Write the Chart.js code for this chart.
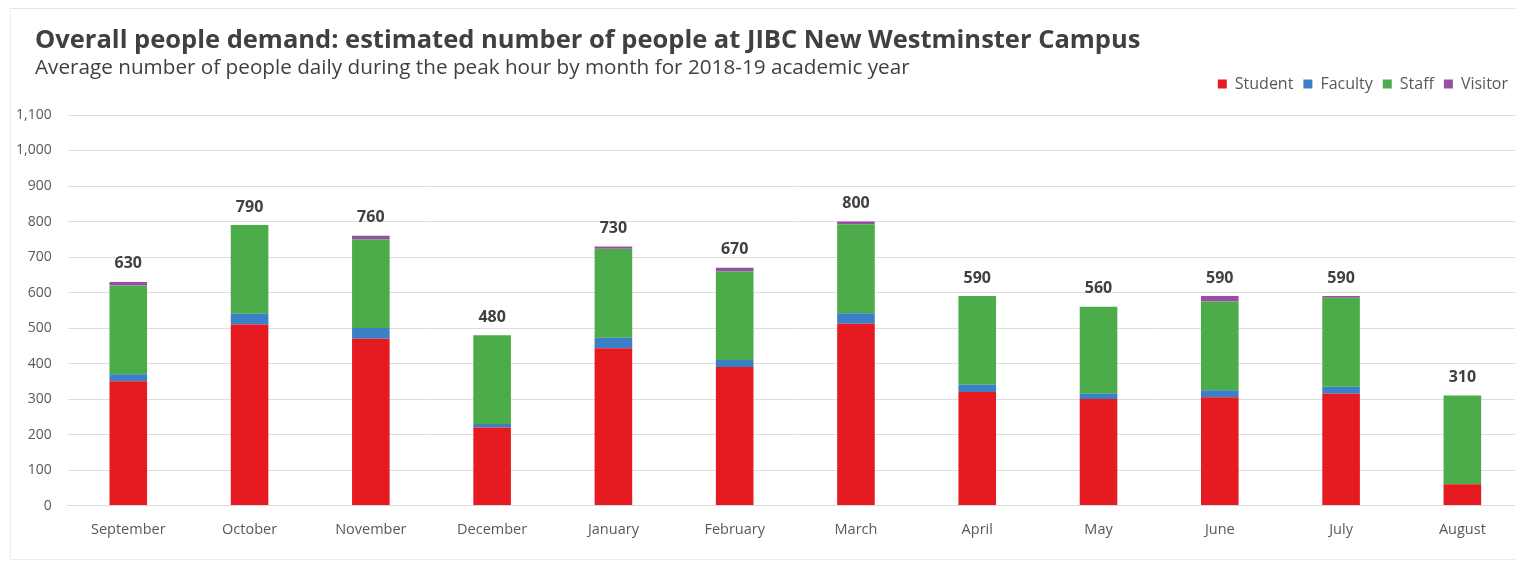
<!DOCTYPE html>
<html>
<head>
<meta charset="utf-8">
<script src="https://cdn.jsdelivr.net/npm/chart.js@4.4.1/dist/chart.umd.min.js"></script>
<style>
  html, body { margin: 0; padding: 0; background: #ffffff; overflow: hidden; }
  #frame {
    position: absolute; left: 10px; top: 8px; width: 1520px; height: 550px;
    border-top: 1px solid #e4e4e4; border-left: 1px solid #ececec; border-bottom: 1px solid #ececec;
  }
  #wrap { position: absolute; left: 0; top: 0; width: 1530px; height: 564px; }
  h1 {
    position: absolute; left: 35px; top: 25.5px; margin: 0; line-height: 1;
    font-family: "Open Sans", sans-serif; font-weight: 700; font-size: 25.5px;
    color: #404040; white-space: nowrap;
  }
  h2 {
    position: absolute; left: 35px; top: 56px; margin: 0; line-height: 1;
    font-family: "Open Sans", sans-serif; font-weight: 400; font-size: 20.7px;
    color: #404040; white-space: nowrap;
  }
</style>
</head>
<body>
<div id="frame"></div>
<div id="wrap"><canvas id="chart" width="1530" height="564"></canvas></div>
<h1>Overall people demand: estimated number of people at JIBC New Westminster Campus</h1>
<h2>Average number of people daily during the peak hour by month for 2018-19 academic year</h2>
<script>
// Months of the 2018-19 academic year
const months = ['September', 'October', 'November', 'December', 'January', 'February',
                'March', 'April', 'May', 'June', 'July', 'August'];

// Average daily people during the peak hour, by group
const student = [350, 510, 470, 220, 443, 390, 512, 320, 300, 305, 315, 60];
const faculty = [20, 30, 30, 10, 30, 20, 30, 20, 15, 20, 20, 0];
const staff   = [250, 250, 250, 250, 250, 250, 250, 250, 245, 250, 250, 250];
const visitor = [10, 0, 10, 0, 7, 10, 8, 0, 0, 15, 5, 0];

// Value axis ticks
const yTicks = [0, 100, 200, 300, 400, 500, 600, 700, 800, 900, 1000, 1100];

const FONT = '"Open Sans", sans-serif';

// Writes the monthly total above each stacked column
const totalLabels = {
  id: 'totalLabels',
  afterDatasetsDraw(chart) {
    const ctx = chart.ctx;
    const yScale = chart.scales.y;
    const xScale = chart.scales.x;
    ctx.save();
    ctx.font = 'bold 16px ' + FONT;
    ctx.fillStyle = '#404040';
    ctx.textAlign = 'center';
    ctx.textBaseline = 'middle';
    months.forEach((m, i) => {
      const total = student[i] + faculty[i] + staff[i] + visitor[i];
      const x = xScale.getPixelForValue(i);
      const y = yScale.getPixelForValue(total) - 18;
      ctx.fillText(String(total), x, y);
    });
    ctx.restore();
  }
};

// Leaves some room between the legend row and the plot,
// and pulls the legend row slightly in from the right edge
const legendPlacement = {
  id: 'legendPlacement',
  beforeInit(chart) {
    const fit = chart.legend.fit;
    chart.legend.fit = function () {
      fit.call(this);
      this.height += 13;
    };
  },
  afterLayout(chart) {
    chart.legend.right -= 5;
  }
};

const ds = (label, data, color) => ({
  label, data, backgroundColor: color, borderWidth: 0,
  barPercentage: 0.62, categoryPercentage: 0.5, stack: 'people'
});

new Chart(document.getElementById('chart'), {
  type: 'bar',
  data: {
    labels: months,
    datasets: [
      ds('Student', student, '#e61b21'),
      ds('Faculty', faculty, '#3b80c6'),
      ds('Staff', staff, '#4cac49'),
      ds('Visitor', visitor, '#9b4ca8')
    ]
  },
  options: {
    responsive: false,
    animation: false,
    layout: { padding: { left: 0, right: 7, top: 66, bottom: 17 } },
    plugins: {
      tooltip: { enabled: false },
      legend: {
        position: 'top',
        align: 'end',
        labels: {
          boxWidth: 9, boxHeight: 9, padding: 10,
          color: '#595959',
          font: { family: FONT, size: 16 }
        }
      }
    },
    scales: {
      x: {
        stacked: true,
        grid: { display: false },
        border: { color: '#d9d9d9' },
        ticks: { color: '#595959', font: { family: FONT, size: 14.5 }, padding: 8 }
      },
      y: {
        stacked: true,
        min: 0, max: 1100,
        afterBuildTicks(axis) { axis.ticks = yTicks.map(v => ({ value: v })); },
        grid: { color: '#dedede', drawTicks: false },
        border: { display: false },
        ticks: {
          color: '#595959', padding: 16,
          font: { family: FONT, size: 14 },
          callback: v => v.toLocaleString('en-US')
        }
      }
    }
  },
  plugins: [totalLabels, legendPlacement]
});
</script>
</body>
</html>
